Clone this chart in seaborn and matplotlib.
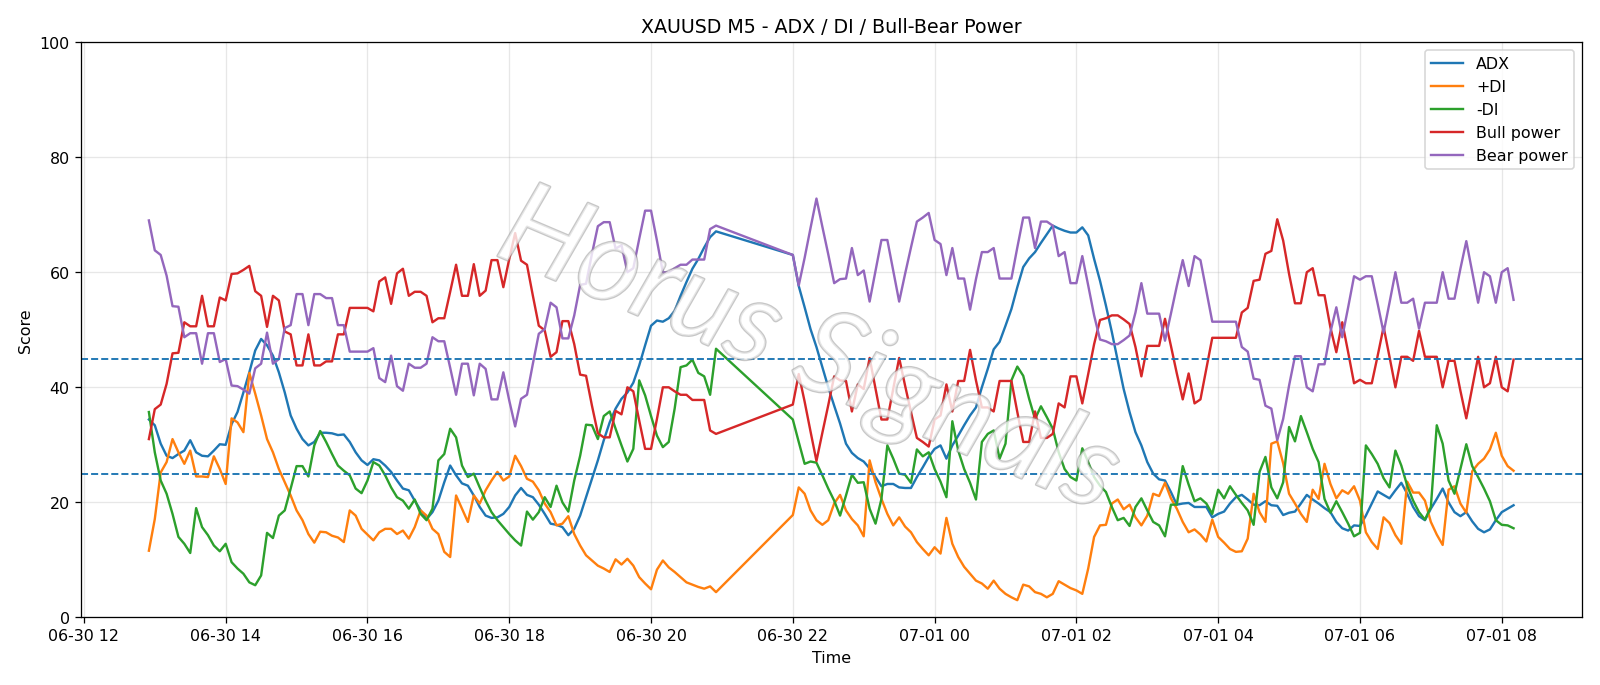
import pandas as pd
import matplotlib
matplotlib.use("Agg")
import matplotlib.pyplot as plt
import matplotlib.dates as mdates
import matplotlib.patheffects as pe
import seaborn as sns

# M5 bars, two sessions (daily break 21:00-22:00)
times_a = pd.date_range("2025-06-30 12:55", "2025-06-30 20:55", freq="5min")
times_b = pd.date_range("2025-06-30 22:00", "2025-07-01 08:10", freq="5min")

adx = [
    34.4, 33.4, 30.2, 28.1, 27.7, 28.4, 29.0, 30.8, 28.7, 28.1, 28.0, 29.0, 30.1, 30.0, 33.6, 35.7, 39.1,
    42.6, 46.4, 48.4, 47.3, 45.5, 42.6, 39.1, 35.1, 32.8, 31.0, 29.9, 30.5, 32.1, 32.1, 32.0, 31.7,
    31.8, 30.5, 28.7, 27.3, 26.5, 27.5, 27.3, 26.4, 25.3, 23.8, 22.4, 22.1, 20.3, 18.6, 17.1, 18.3,
    20.3, 23.5, 26.4, 24.7, 23.3, 22.9, 21.2, 19.2, 17.7, 17.3, 17.4, 18.0, 19.2, 21.2, 22.5, 21.3,
    20.9, 19.6, 18.0, 16.3, 16.1, 15.7, 14.3, 15.4, 17.7, 20.9, 24.1, 27.3, 30.8, 33.9, 36.3, 38.0,
    39.1, 40.8, 43.8, 47.3, 50.7, 51.6, 51.4, 52.0, 53.3, 55.9, 58.3, 60.6, 62.3, 64.3, 66.1, 67.1,
    # after the break
    63.0, 57.6, 53.9, 50.1, 47.0, 43.5, 40.0, 36.8, 33.7, 30.2, 28.6, 27.7, 27.1, 25.9, 24.4, 22.8,
    23.2, 23.2, 22.6, 22.5,
    22.5, 24.4, 26.1, 27.9, 29.3, 29.9, 27.6, 29.9, 31.6, 33.4, 35.1, 36.5, 40.0, 43.2, 46.6, 47.9,
    50.7, 53.6, 57.4, 60.9, 62.4, 63.5, 65.1, 66.6, 68.1, 67.6, 67.2, 66.9, 66.9, 67.8, 66.4, 62.3, 58.5,
    54.2, 49.6, 44.6, 39.7, 35.7, 32.2, 29.9, 27.0, 25.0, 24.0, 23.8, 21.8, 19.6, 19.8, 19.9, 19.2,
    19.2, 19.2, 17.4, 18.0, 18.4, 19.8, 20.9, 21.3, 20.5, 19.6, 19.5, 20.2, 19.5, 19.4,
    17.8, 18.2, 18.4, 19.8, 21.3, 20.5, 19.8, 19.0, 18.3, 16.6, 15.5, 15.1, 16.0, 15.9, 17.7, 19.8,
    21.9, 21.3, 20.7, 22.1, 23.4, 21.5, 19.2, 17.6, 16.9, 18.9, 20.6, 22.4, 20.0, 18.3, 17.6, 18.3,
    16.7, 15.4, 14.8, 15.3, 16.9, 18.3, 18.9, 19.5,
]

plus_di = [
    11.6, 17.1, 25.2, 27.0, 31.0, 28.7, 26.7, 29.0, 24.5, 24.5, 24.4, 28.0, 25.8, 23.2, 34.6, 33.9, 32.2,
    42.5, 38.9, 35.1, 31.0, 28.7, 25.8, 23.5, 21.2, 18.6, 16.9, 14.5, 13.0, 14.9, 14.8, 14.2, 13.9,
    13.1, 18.6, 17.7, 15.4, 14.4, 13.4, 14.8, 15.4, 15.4, 14.5, 15.1, 13.7, 15.7, 18.6, 17.7, 15.4,
    14.5, 11.4, 10.5, 21.2, 18.9, 16.6, 21.2, 19.8, 22.1, 23.8, 25.3, 23.8, 24.5, 28.1, 26.3, 24.1,
    23.6, 22.1, 19.8, 18.3, 16.0, 16.3, 17.6, 14.5, 12.5, 10.8, 9.9, 9.0, 8.5, 7.9, 10.1, 9.2,
    10.2, 9.0, 7.0, 5.9, 4.9, 8.3, 9.9, 8.7, 7.9, 7.0, 6.1, 5.7, 5.3, 5.0, 5.4, 4.4,
    17.8, 22.6, 21.5, 18.6, 16.9, 16.1, 16.9, 19.8, 21.3, 18.6, 17.1, 16.0, 14.1, 27.3, 23.5, 20.6,
    18.0, 16.0, 17.4, 15.8,
    14.8, 13.1, 11.9, 10.8, 12.2, 11.1, 17.3, 12.8, 10.5, 8.8, 7.6, 6.4, 5.9, 5.0, 6.4, 5.0,
    4.1, 3.5, 3.0, 5.7, 5.4, 4.4, 4.1, 3.5, 4.1, 6.3, 5.7, 5.1, 4.7, 4.1, 8.5, 14.0, 16.0,
    16.1, 19.8, 20.5, 18.8, 19.6, 17.4, 16.0, 17.7, 21.5, 21.1, 23.4, 20.7, 18.9, 16.6, 14.8, 15.3,
    14.4, 13.2, 17.0, 14.0, 13.0, 11.9, 11.4, 11.5, 13.7, 21.5, 18.3, 16.6, 30.2, 30.6,
    26.8, 21.5, 19.8, 18.0, 16.6, 22.2, 20.6, 26.7, 23.2, 20.7, 22.1, 21.5, 22.8, 20.3, 14.8, 13.1,
    11.9, 17.4, 16.4, 14.3, 12.8, 23.6, 21.7, 21.7, 20.3, 16.6, 14.4, 12.6, 22.2, 22.8, 19.8, 18.2,
    25.4, 26.7, 27.6, 29.2, 32.1, 28.1, 26.3, 25.5,
]

minus_di = [
    35.7, 28.7, 23.8, 21.5, 18.0, 14.0, 12.8, 11.2, 19.0, 15.7, 14.3, 12.5, 11.5, 12.8, 9.6, 8.5, 7.6,
    6.1, 5.6, 7.3, 14.7, 13.8, 17.7, 18.6, 22.4, 26.3, 26.3, 24.5, 29.9, 32.4, 30.5, 28.4, 26.4,
    25.5, 24.7, 22.4, 21.6, 23.8, 27.0, 26.4, 24.7, 22.6, 20.9, 20.3, 18.9, 20.5, 18.0, 16.9, 18.9,
    27.3, 28.4, 32.8, 31.3, 26.4, 24.4, 25.0, 22.6, 20.3, 18.3, 16.9, 15.7, 14.5, 13.4, 12.5, 18.4,
    17.0, 18.3, 20.9, 19.2, 22.9, 20.0, 18.4, 23.8, 28.1, 33.5, 33.4, 31.0, 35.0, 35.8, 32.8, 29.9,
    27.1, 29.3, 41.2, 38.6, 35.0, 31.6, 29.6, 30.5, 36.3, 43.5, 43.8, 44.8, 42.5, 41.9, 38.7, 46.7,
    34.4, 30.5, 26.7, 27.1, 26.9, 24.7, 22.4, 20.3, 17.7, 21.2, 24.8, 23.4, 23.5, 18.9, 16.3, 20.6,
    29.9, 27.6, 25.0, 24.8,
    23.4, 29.2, 28.0, 28.7, 25.8, 23.6, 20.9, 34.1, 29.0, 25.8, 23.4, 20.5, 30.5, 31.9, 32.5, 27.6,
    30.2, 41.2, 43.6, 42.0, 38.0, 34.5, 36.7, 34.8, 32.8, 28.7, 25.8, 24.4, 23.8, 29.4, 27.0, 24.4, 22.9,
    21.8, 19.2, 16.9, 17.3, 15.9, 19.2, 20.7, 18.6, 16.6, 16.0, 14.1, 19.6, 19.6, 26.3, 23.1, 20.2,
    20.7, 19.8, 18.0, 22.2, 20.7, 22.8, 21.3, 19.9, 18.6, 16.1, 25.3, 27.9, 22.6, 20.7,
    23.5, 33.1, 30.6, 35.0, 32.2, 29.3, 27.0, 20.6, 18.2, 20.2, 18.3, 16.3, 14.1, 14.7, 29.9, 28.4,
    26.7, 24.2, 22.6, 29.0, 26.4, 22.9, 20.3, 18.3, 17.0, 19.2, 33.4, 30.2, 23.8, 21.5, 25.8, 30.1,
    26.3, 24.4, 22.4, 20.2, 16.9, 16.1, 16.0, 15.5,
]

bull_power = [
    31.0, 36.2, 37.0, 40.6, 45.9, 46.0, 51.3, 50.6, 50.6, 55.9, 50.6, 50.6, 55.6, 55.1, 59.7, 59.8, 60.4,
    61.1, 56.7, 55.9, 50.5, 55.9, 55.1, 49.7, 49.2, 43.8, 43.8, 49.2, 43.8, 43.8, 44.5, 44.5, 49.2,
    49.2, 53.8, 53.8, 53.8, 53.8, 53.2, 58.4, 59.1, 54.5, 59.8, 60.6, 55.9, 56.6, 56.6, 55.9, 51.3,
    52.0, 52.0, 56.6, 61.3, 55.9, 55.9, 61.4, 55.9, 56.8, 62.1, 62.1, 57.4, 62.3, 66.8, 62.0, 61.3,
    55.9, 50.7, 49.9, 45.3, 46.1, 51.5, 51.5, 47.5, 42.2, 42.0, 36.8, 32.0, 31.3, 31.3, 35.9, 35.3,
    40.0, 39.3, 34.2, 29.3, 29.3, 34.5, 40.0, 40.0, 39.3, 38.7, 38.7, 37.8, 37.8, 37.8, 32.5, 31.9,
    37.0, 42.3, 37.5, 32.3, 27.2, 32.1, 36.9, 41.9, 41.2, 41.1, 35.8, 40.5, 39.7, 45.1, 39.7, 34.4,
    34.4, 39.7, 45.1, 40.3,
    35.7, 31.2, 30.5, 29.7, 34.4, 35.1, 40.5, 35.8, 41.1, 41.1, 46.5, 41.2, 36.5, 36.5, 35.8, 41.1,
    41.1, 41.1, 35.7, 30.5, 30.5, 35.8, 31.2, 31.2, 31.9, 37.2, 36.5, 41.9, 41.9, 37.2, 42.3, 47.5, 51.7,
    52.0, 52.5, 52.5, 51.8, 51.0, 47.0, 41.9, 47.2, 47.2, 47.2, 51.9, 47.2, 42.4, 37.9, 42.4, 37.2,
    37.9, 43.2, 48.6, 48.6, 48.6, 48.6, 48.6, 53.0, 53.8, 58.5, 58.7, 63.2, 63.7, 69.2,
    65.5, 59.7, 54.6, 54.6, 60.0, 60.7, 56.0, 56.0, 50.4, 46.1, 51.3, 46.1, 40.7, 41.3, 40.7, 40.7,
    45.5, 50.5, 45.3, 40.0, 45.3, 45.3, 44.6, 49.8, 45.3, 45.3, 45.3, 40.0, 44.6, 44.6, 39.4, 34.6,
    40.0, 45.3, 40.0, 40.7, 45.3, 40.0, 39.3, 44.8,
]

bear_power = [
    69.0, 63.8, 63.0, 59.4, 54.1, 54.0, 48.7, 49.4, 49.4, 44.1, 49.4, 49.4, 44.4, 44.9, 40.3, 40.2, 39.6,
    38.9, 43.3, 44.1, 49.5, 44.1, 44.9, 50.3, 50.8, 56.2, 56.2, 50.8, 56.2, 56.2, 55.5, 55.5, 50.8,
    50.8, 46.2, 46.2, 46.2, 46.2, 46.8, 41.6, 40.9, 45.5, 40.2, 39.4, 44.1, 43.4, 43.4, 44.1, 48.7,
    48.0, 48.0, 43.4, 38.7, 44.1, 44.1, 38.6, 44.1, 43.2, 37.9, 37.9, 42.6, 37.7, 33.2, 38.0, 38.7,
    44.1, 49.3, 50.1, 54.7, 53.9, 48.5, 48.5, 52.5, 57.8, 58.0, 63.2, 68.0, 68.7, 68.7, 64.1, 64.7,
    60.0, 60.7, 65.8, 70.7, 70.7, 65.5, 60.0, 60.0, 60.7, 61.3, 61.3, 62.2, 62.2, 62.2, 67.5, 68.1,
    63.0, 57.7, 62.5, 67.7, 72.8, 67.9, 63.1, 58.1, 58.8, 58.9, 64.2, 59.5, 60.3, 54.9, 60.3, 65.6,
    65.6, 60.3, 54.9, 59.7,
    64.3, 68.8, 69.5, 70.3, 65.6, 64.9, 59.5, 64.2, 58.9, 58.9, 53.5, 58.8, 63.5, 63.5, 64.2, 58.9,
    58.9, 58.9, 64.3, 69.5, 69.5, 64.2, 68.8, 68.8, 68.1, 62.8, 63.5, 58.1, 58.1, 62.8, 57.7, 52.5, 48.3,
    48.0, 47.5, 47.5, 48.2, 49.0, 53.0, 58.1, 52.8, 52.8, 52.8, 48.1, 52.8, 57.6, 62.1, 57.6, 62.8,
    62.1, 56.8, 51.4, 51.4, 51.4, 51.4, 51.4, 47.0, 46.2, 41.5, 41.3, 36.8, 36.3, 30.8,
    34.5, 40.3, 45.4, 45.4, 40.0, 39.3, 44.0, 44.0, 49.6, 53.9, 48.7, 53.9, 59.3, 58.7, 59.3, 59.3,
    54.5, 49.5, 54.7, 60.0, 54.7, 54.7, 55.4, 50.2, 54.7, 54.7, 54.7, 60.0, 55.4, 55.4, 60.6, 65.4,
    60.0, 54.7, 60.0, 59.3, 54.7, 60.0, 60.7, 55.2,
]

levels = [25, 45]

df = pd.DataFrame({
    "Time": times_a.append(times_b),
    "ADX": adx,
    "+DI": plus_di,
    "-DI": minus_di,
    "Bull power": bull_power,
    "Bear power": bear_power,
})

fig, ax = plt.subplots(figsize=(14, 6), dpi=114.3)
fig.subplots_adjust(left=0.0504, right=0.9885, top=0.9375, bottom=0.0985)

colors = ["C0", "C1", "C2", "C3", "C4"]
for col, c in zip(df.columns[1:], colors):
    sns.lineplot(x=df["Time"], y=df[col], ax=ax, label=col, color=c, linewidth=1.5)

for lv in levels:
    ax.axhline(lv, linestyle="--", linewidth=1.2, color="C0")

ax.set_ylim(0, 100)
ax.set_title("XAUUSD M5 - ADX / DI / Bull-Bear Power")
ax.set_xlabel("Time")
ax.set_ylabel("Score")
ax.grid(True, alpha=0.3)
ax.xaxis.set_major_locator(mdates.HourLocator(byhour=range(0, 24, 2)))
ax.xaxis.set_major_formatter(mdates.DateFormatter("%m-%d %H"))
ax.legend(loc="upper right")

# watermark: outlined italic text across the middle
ax.text(0.485, 0.46, "Horus Signals", transform=ax.transAxes, fontsize=74,
        rotation=-23, ha="center", va="center", color="white", alpha=0.55,
        family=["Lato", "DejaVu Sans"], style="italic", zorder=5,
        path_effects=[pe.withStroke(linewidth=1.6, foreground="#9a9a9a")])

fig.savefig("out.png", dpi=114.3)
